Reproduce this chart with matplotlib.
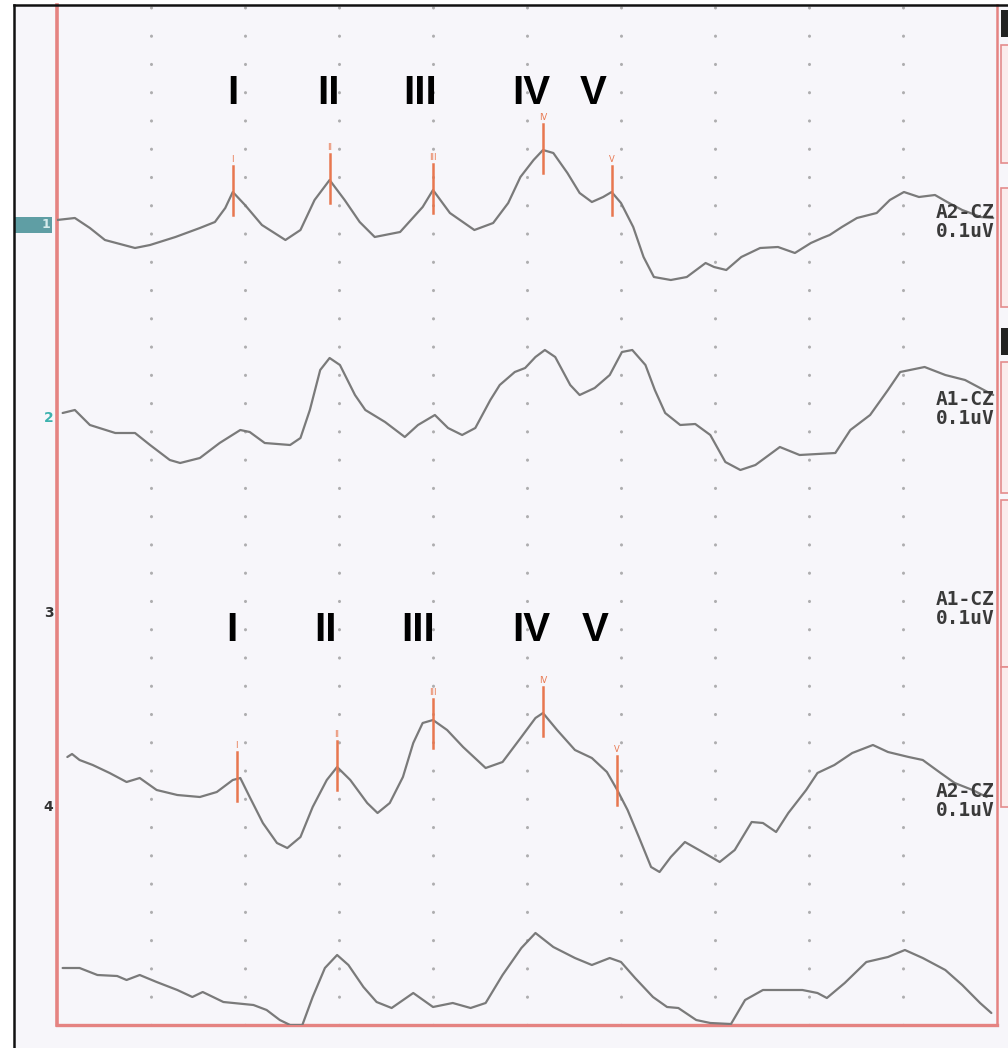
import matplotlib
matplotlib.use('Agg')
import matplotlib.pyplot as plt
from matplotlib.patches import Rectangle
from matplotlib.lines import Line2D

# latency in ms, amplitude in chart divisions (0 = bottom of the recording area)
t1 = [0.00, 0.19, 0.35, 0.51, 0.83, 0.99, 1.26, 1.52, 1.68, 1.79, 1.87, 2.00, 2.18, 2.43, 2.59, 2.74,
      2.90, 3.06, 3.22, 3.38, 3.65, 3.89, 4.00, 4.18, 4.44, 4.64, 4.80, 4.93, 5.07, 5.17, 5.28, 5.43,
      5.56, 5.69, 5.81, 5.90, 6.00, 6.13, 6.24, 6.35, 6.53, 6.70, 6.90, 6.99, 7.12, 7.28, 7.48, 7.67,
      7.85, 8.02, 8.14, 8.22, 8.35, 8.51, 8.72, 8.86, 9.01, 9.17, 9.34, 9.47, 9.63, 9.83, 9.96]
y1 = [80.7, 80.9, 79.9, 78.7, 77.9, 78.2, 79.0, 79.9, 80.5, 81.9, 83.5, 82.2, 80.2, 78.7, 79.7, 82.7,
      84.7, 82.7, 80.5, 79.0, 79.5, 82.0, 83.7, 81.4, 79.7, 80.4, 82.4, 85.0, 86.7, 87.7, 87.4, 85.4,
      83.4, 82.5, 83.0, 83.5, 82.4, 80.0, 77.0, 75.0, 74.7, 75.0, 76.4, 76.0, 75.7, 77.0, 77.9, 78.0,
      77.4, 78.4, 78.9, 79.2, 80.0, 80.9, 81.4, 82.7, 83.5, 83.0, 83.2, 82.5, 81.7, 81.0, 80.9]

t2 = [0.06, 0.19, 0.35, 0.62, 0.83, 0.99, 1.20, 1.31, 1.52, 1.73, 1.95, 2.05, 2.21, 2.48, 2.59, 2.69,
      2.80, 2.90, 3.01, 3.17, 3.28, 3.49, 3.70, 3.84, 4.02, 4.16, 4.31, 4.45, 4.61, 4.71, 4.87, 4.98,
      5.09, 5.19, 5.30, 5.46, 5.56, 5.72, 5.88, 6.01, 6.12, 6.26, 6.36, 6.47, 6.63, 6.79, 6.95, 7.11,
      7.27, 7.43, 7.69, 7.90, 8.28, 8.44, 8.65, 8.84, 8.97, 9.23, 9.45, 9.66, 9.96]
y2 = [61.4, 61.7, 60.2, 59.4, 59.4, 58.2, 56.7, 56.4, 56.9, 58.4, 59.7, 59.5, 58.4, 58.2, 58.9, 61.7,
      65.7, 66.9, 66.2, 63.2, 61.7, 60.5, 59.0, 60.2, 61.2, 59.9, 59.2, 59.9, 62.7, 64.2, 65.5, 65.9,
      67.0, 67.7, 67.0, 64.2, 63.2, 63.9, 65.2, 67.5, 67.7, 66.2, 63.7, 61.4, 60.2, 60.3, 59.2, 56.5,
      55.7, 56.2, 58.0, 57.2, 57.4, 59.7, 61.2, 63.7, 65.5, 66.0, 65.2, 64.7, 63.2]

t3 = [0.11, 0.16, 0.24, 0.38, 0.56, 0.74, 0.88, 1.06, 1.28, 1.52, 1.70, 1.87, 1.95, 2.05, 2.19, 2.34,
      2.45, 2.59, 2.72, 2.87, 2.98, 3.12, 3.30, 3.41, 3.54, 3.68, 3.79, 3.89, 4.00, 4.15, 4.32, 4.56,
      4.74, 4.94, 5.09, 5.17, 5.32, 5.51, 5.69, 5.85, 5.96, 6.07, 6.19, 6.32, 6.41, 6.53, 6.68, 6.83,
      7.05, 7.21, 7.39, 7.51, 7.65, 7.78, 7.97, 8.09, 8.27, 8.46, 8.68, 8.84, 9.06, 9.21, 9.40, 9.55,
      9.74, 9.89]
y3 = [27.0, 27.3, 26.7, 26.2, 25.4, 24.5, 24.9, 23.7, 23.2, 23.0, 23.5, 24.7, 24.9, 23.0, 20.4, 18.4,
      17.9, 19.0, 22.0, 24.7, 26.0, 24.7, 22.4, 21.4, 22.4, 25.0, 28.4, 30.4, 30.7, 29.7, 28.0, 25.9,
      26.5, 29.0, 30.9, 31.4, 29.7, 27.7, 26.9, 25.5, 23.7, 21.7, 19.0, 16.0, 15.5, 17.0, 18.5, 17.7,
      16.5, 17.7, 20.5, 20.4, 19.5, 21.4, 23.7, 25.4, 26.2, 27.4, 28.2, 27.5, 27.0, 26.7, 25.4, 24.4,
      23.7, 23.0]

t4 = [0.06, 0.24, 0.43, 0.64, 0.74, 0.88, 1.06, 1.28, 1.44, 1.55, 1.77, 2.09, 2.23, 2.37, 2.48, 2.61,
      2.72, 2.85, 2.98, 3.10, 3.26, 3.40, 3.56, 3.79, 4.00, 4.21, 4.40, 4.56, 4.74, 4.94, 5.09, 5.28,
      5.51, 5.69, 5.88, 6.00, 6.15, 6.34, 6.49, 6.61, 6.80, 6.95, 7.17, 7.32, 7.51, 7.70, 7.93, 8.09,
      8.19, 8.38, 8.61, 8.84, 9.02, 9.21, 9.45, 9.63, 9.82, 9.94]
y4 = [5.9, 5.9, 5.2, 5.1, 4.7, 5.2, 4.5, 3.7, 3.0, 3.5, 2.5, 2.2, 1.7, 0.7, 0.2, 0.2,
      3.0, 5.9, 7.2, 6.2, 4.0, 2.5, 1.9, 3.4, 2.0, 2.4, 1.9, 2.4, 5.2, 7.9, 9.4, 8.0,
      6.9, 6.2, 6.9, 6.5, 4.9, 3.0, 2.0, 1.9, 0.7, 0.4, 0.3, 2.7, 3.7, 3.7, 3.7, 3.4,
      2.9, 4.4, 6.5, 7.0, 7.7, 6.9, 5.7, 4.2, 2.4, 1.4]

channel_names = ['A2-CZ', 'A1-CZ', 'A1-CZ', 'A2-CZ']
channel_gain = ['0.1uV', '0.1uV', '0.1uV', '0.1uV']
channel_label_y = [80.5, 61.8, 41.8, 22.6]
channel_numbers = ['1', '2', '3', '4']
channel_number_y = [80.2, 60.9, 41.4, 22.0]

wave_names = ['I', 'II', 'III', 'IV', 'V']
# peaks marked on trace 1 and trace 3
top_peak_t = [1.87, 2.90, 4.00, 5.17, 5.90]
top_peak_y = [83.5, 84.7, 83.7, 87.7, 83.5]
bot_peak_t = [1.91, 2.98, 4.00, 5.17, 5.96]
bot_peak_y = [24.9, 26.0, 30.2, 31.4, 24.5]
# big roman numeral annotations
top_label_t = [1.87, 2.89, 3.86, 5.05, 5.70]
bot_label_t = [1.86, 2.86, 3.84, 5.05, 5.72]
top_label_y = 93.4
bot_label_y = 39.7

W, H = 1008, 1048
fig = plt.figure(figsize=(W / 100, H / 100), dpi=100)
fig.patch.set_facecolor('white')

# paper background + scanned black frame (top and left edge)
fig.add_artist(Rectangle((14 / W, 0), 1 - 14 / W, 1 - 5 / H, transform=fig.transFigure,
                         fc='#f7f6fa', ec='none', zorder=-10))
fig.add_artist(Line2D([14 / W, 1], [1 - 5 / H, 1 - 5 / H], transform=fig.transFigure, color='#111111', lw=1.8))
fig.add_artist(Line2D([14 / W, 14 / W], [0, 1 - 5 / H], transform=fig.transFigure, color='#111111', lw=1.8))

# partial side panels on the right edge
panels = [(45, 163), (188, 307), (362, 493), (500, 667), (667, 807)]
for top, bot in panels:
    fig.add_artist(Rectangle((1001 / W, 1 - bot / H), 20 / W, (bot - top) / H, transform=fig.transFigure,
                             fc='#fbecec', ec='#e48c8c', lw=1.2))
for top, bot in [(10, 37), (328, 355)]:
    fig.add_artist(Rectangle((1001 / W, 1 - bot / H), 10 / W, (bot - top) / H, transform=fig.transFigure,
                             fc='#222222', ec='none'))

ax = fig.add_axes([57 / W, 23 / H, 940 / W, 1020 / H])
ax.set_facecolor('none')
ax.set_xlim(0, 10)
ax.set_ylim(0.2, 102.2)
ax.set_xticks([])
ax.set_yticks([])
red = '#e58381'
for side in ['left', 'bottom', 'right']:
    ax.spines[side].set_color(red)
ax.spines['left'].set_linewidth(2.6)
ax.spines['bottom'].set_linewidth(2.4)
ax.spines['right'].set_linewidth(1.8)
ax.spines['top'].set_visible(False)

for x in range(1, 10):
    ax.axvline(x, color='#8f8f8f', lw=2.2, ls=(0, (0.05, 9.2)), dash_capstyle='round', alpha=0.7, zorder=1)

for t, y in [(t1, y1), (t2, y2), (t3, y3), (t4, y4)]:
    ax.plot(t, y, color='#7a7a7a', lw=1.6, solid_joinstyle='round', solid_capstyle='round', zorder=3)

orange = '#e8774f'
for pt, py in [(top_peak_t, top_peak_y), (bot_peak_t, bot_peak_y)]:
    for name, t, y in zip(wave_names, pt, py):
        ax.plot([t, t], [y - 2.3, y + 2.6], color=orange, lw=1.8, zorder=4)
        ax.text(t, y + 2.8, name, color=orange, fontsize=6, ha='center', va='bottom', zorder=4)

for name, t in zip(wave_names, top_label_t):
    ax.text(t, top_label_y, name, fontsize=29, fontweight='bold', family='Liberation Sans',
            ha='center', va='center', color='black')
for name, t in zip(wave_names, bot_label_t):
    ax.text(t, bot_label_y, name, fontsize=29, fontweight='bold', family='Liberation Sans',
            ha='center', va='center', color='black')

for name, gain, y in zip(channel_names, channel_gain, channel_label_y):
    ax.text(9.97, y, name + '\n' + gain, family='DejaVu Sans Mono', fontweight='bold', fontsize=14,
            color='#3a3a3a', ha='right', va='center', linespacing=1.0, zorder=5)

# channel numbers in the left margin
ax.add_patch(Rectangle((-0.45, 79.4), 0.4, 1.6, fc='#5f9ea4', ec='none', clip_on=False))
ax.text(-0.12, channel_number_y[0], channel_numbers[0], color='#d7ecec', fontsize=9, fontweight='bold',
        ha='center', va='center', clip_on=False)
num_colors = ['#d7ecec', '#3cb2ae', '#333333', '#333333']
for num, y, c in zip(channel_numbers[1:], channel_number_y[1:], num_colors[1:]):
    ax.text(-0.09, y, num, color=c, fontsize=10, fontweight='bold', ha='center', va='center', clip_on=False)

fig.savefig('out.png', dpi=100)
